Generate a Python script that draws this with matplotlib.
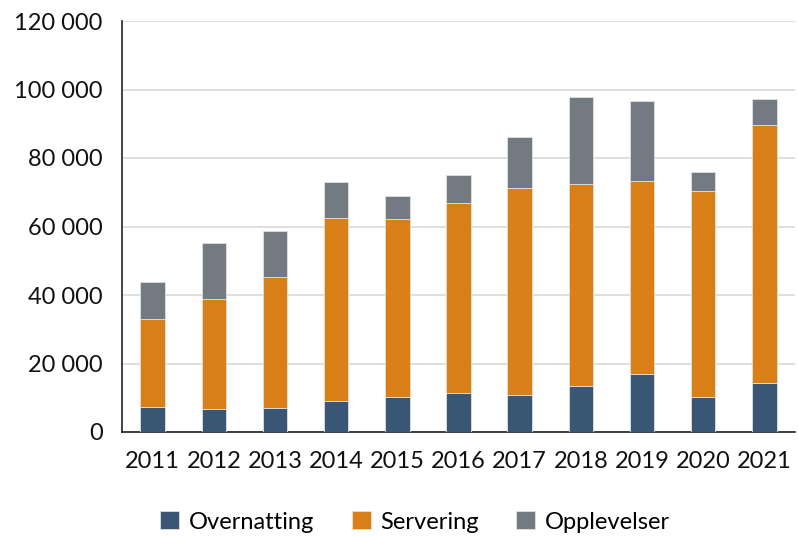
import matplotlib
matplotlib.use("Agg")
import matplotlib.pyplot as plt
import numpy as np

years = ["2011", "2012", "2013", "2014", "2015", "2016", "2017", "2018", "2019", "2020", "2021"]
overnatting = [7400, 6800, 7100, 9100, 10300, 11500, 10700, 13300, 17000, 10100, 14300]
servering = [25700, 32100, 38200, 53400, 51900, 55400, 60500, 59100, 56400, 60400, 75400]
opplevelser = [10700, 16300, 13500, 10500, 6800, 8100, 14900, 25500, 23100, 5300, 7500]

plt.rcParams['font.family'] = ['Lato', 'DejaVu Sans']

fig = plt.figure(figsize=(7.98, 5.37), dpi=100)
ax = fig.add_axes([122 / 798, 1 - 432 / 537, 673 / 798, 411 / 537])

x = np.arange(len(years))
w = 0.4
blue = "#3a5675"
orange = "#d87f17"
grey = "#737a82"

ax.bar(x, overnatting, w, color=blue, edgecolor="#e0e0e0", linewidth=0.6, label="Overnatting", zorder=3)
ax.bar(x, servering, w, bottom=overnatting, color=orange, edgecolor="#e0e0e0", linewidth=0.6,
       label="Servering", zorder=3)
bottom2 = np.array(overnatting) + np.array(servering)
ax.bar(x, opplevelser, w, bottom=bottom2, color=grey, edgecolor="#e0e0e0", linewidth=0.6,
       label="Opplevelser", zorder=3)

ax.set_xlim(-0.5, len(years) - 0.5)
ax.set_ylim(0, 120000)
ax.set_yticks(range(0, 120001, 20000))
ax.set_yticklabels([f"{v:,}".replace(",", " ") for v in range(0, 120001, 20000)])
ax.set_xticks(x)
ax.set_xticklabels(years)
ax.tick_params(axis="both", length=0, labelsize=17, colors="#111111")
ax.tick_params(axis="x", pad=14)
ax.tick_params(axis="y", pad=14)

ax.yaxis.grid(True, color="#d9d9d9", linewidth=1.2, zorder=0)
ax.set_axisbelow(True)
for s in ["top", "right"]:
    ax.spines[s].set_visible(False)
ax.spines["left"].set_color("#222222")
ax.spines["bottom"].set_color("#222222")
ax.spines["left"].set_linewidth(1.2)
ax.spines["bottom"].set_linewidth(1.2)

fig.legend(loc="center", bbox_to_anchor=(415 / 798, 1 - 522 / 537), ncol=3, frameon=False,
           fontsize=17, handlelength=0.8, handleheight=0.8, columnspacing=1.6, handletextpad=0.4)

fig.savefig("out.png", dpi=100)
